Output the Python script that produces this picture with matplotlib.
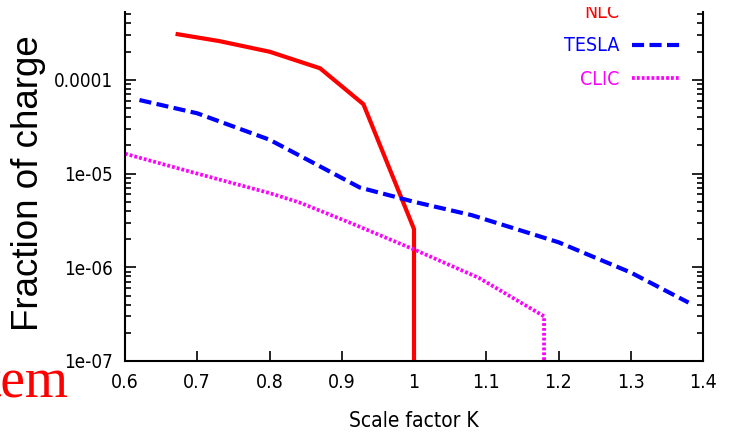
import matplotlib
matplotlib.use("Agg")
import matplotlib.pyplot as plt
from matplotlib.patches import Rectangle
from matplotlib.ticker import LogLocator, FixedLocator, NullFormatter
from matplotlib import font_manager as fm

# ---------------- data ----------------
nlc_k = [0.67, 0.73, 0.80, 0.87, 0.93, 1.00, 1.00]
nlc_frac = [3.1e-4, 2.6e-4, 2.0e-4, 1.33e-4, 5.5e-5, 2.56e-6, 1e-9]

tesla_k = [0.62, 0.70, 0.80, 0.86, 0.925, 1.00, 1.08, 1.20, 1.30, 1.38]
tesla_frac = [6.1e-5, 4.4e-5, 2.3e-5, 1.31e-5, 7.1e-6, 5.0e-6, 3.6e-6, 1.85e-6, 8.8e-7, 4.2e-7]

clic_k = [0.60, 0.70, 0.80, 0.842, 0.911, 1.00, 1.09, 1.18, 1.18]
clic_frac = [1.63e-5, 1.0e-5, 6.2e-6, 4.9e-6, 3.0e-6, 1.55e-6, 7.7e-7, 3.0e-7, 1e-9]

x_ticks = [0.6, 0.7, 0.8, 0.9, 1.0, 1.1, 1.2, 1.3, 1.4]
x_tick_labels = ["0.6", "0.7", "0.8", "0.9", "1", "1.1", "1.2", "1.3", "1.4"]
y_ticks = [1e-7, 1e-6, 1e-5, 1e-4]
y_tick_labels = ["1e-07", "1e-06", "1e-05", "0.0001"]

# ---------------- fonts ----------------
cond = [f for f in fm.fontManager.ttflist
        if "Condensed" in f.fname or "Narrow" in f.fname]
if any("Narrow" in f.fname and "Liberation" in f.fname for f in cond):
    narrow = fm.FontProperties(family="Liberation Sans Narrow")
elif any("DejaVuSansCondensed" in f.fname for f in cond):
    narrow = fm.FontProperties(family="DejaVu Sans", stretch="condensed")
else:
    narrow = fm.FontProperties(family="Liberation Sans")


def np_(size):
    p = narrow.copy()
    p.set_size(size)
    return p


# ---------------- figure ----------------
W, H = 731, 434
fig = plt.figure(figsize=(W / 100, H / 100), dpi=100)
regular = ["Liberation Sans", "DejaVu Sans"]

left, right, bottom, top = 125, 703, 361, 12
ax = fig.add_axes([left / W, 1 - bottom / H, (right - left) / W, (bottom - top) / H])

ax.plot(nlc_k, nlc_frac, color="#ff0000", lw=3, solid_capstyle="butt",
        solid_joinstyle="miter", label="NLC")
ax.plot(tesla_k, tesla_frac, color="#0000ff", lw=3, dashes=(2.9, 1.3),
        dash_capstyle="butt", label="TESLA")
ax.plot(clic_k, clic_frac, color="#ff00ff", lw=2.7, dashes=(0.75, 0.55),
        dash_capstyle="butt", label="CLIC")

ax.set_yscale("log")
ax.set_xlim(0.6, 1.4)
ax.set_ylim(1e-7, 10 ** (-7 + (bottom - top) / 93.7))

ax.xaxis.set_major_locator(FixedLocator(x_ticks))
ax.set_xticklabels(x_tick_labels, fontproperties=np_(14))
ax.set_yticks(y_ticks)
ax.set_yticklabels(y_tick_labels, fontproperties=np_(13.5))
ax.yaxis.set_minor_locator(LogLocator(base=10, subs=range(2, 10), numticks=20))
ax.yaxis.set_minor_formatter(NullFormatter())

ax.tick_params(axis="both", which="both", direction="in", width=1.2, color="black")
ax.tick_params(axis="y", which="major", length=8, left=True, right=True, pad=9)
ax.tick_params(axis="y", which="minor", length=4.5, left=True, right=True)
ax.tick_params(axis="x", which="major", length=7, top=False, pad=9)
ax.spines["top"].set_visible(False)
for s in ("left", "right", "bottom"):
    ax.spines[s].set_linewidth(1.5)

ax.set_xlabel("Scale factor K", fontproperties=np_(15))
ax.xaxis.set_label_coords(0.5, -(421 - bottom) / (bottom - top))
ax.xaxis.label.set_va("center")
ax.set_ylabel("Fraction of charge", fontfamily=regular, fontsize=26.5)
ax.yaxis.set_label_coords((46 - left) / (right - left), 1 - (183.5 - top) / (bottom - top))

ax.legend(loc="center right", bbox_to_anchor=(680 / W, 1 - 46 / H),
          bbox_transform=fig.transFigure, frameon=False, markerfirst=False,
          prop=np_(14), handlelength=2.45,
          handletextpad=0.65, labelspacing=0.75, borderpad=0, borderaxespad=0,
          labelcolor="linecolor")

# cropped remnants of the surrounding page
fig.text(69 / W, 1 - 398 / H, "tem", color="#ff0000", fontsize=40,
         fontfamily=["Liberation Serif", "DejaVu Serif"], ha="right", va="baseline")
fig.patches.append(Rectangle((0, 1 - 7 / H), 1, 7 / H, transform=fig.transFigure,
                             facecolor="white", edgecolor="none", zorder=10))
fig.patches.append(Rectangle((625 / W, 1 - 14 / H), 60 / W, 14 / H,
                             transform=fig.transFigure,
                             facecolor="white", edgecolor="none", zorder=10))

fig.savefig("out.png", dpi=100)
